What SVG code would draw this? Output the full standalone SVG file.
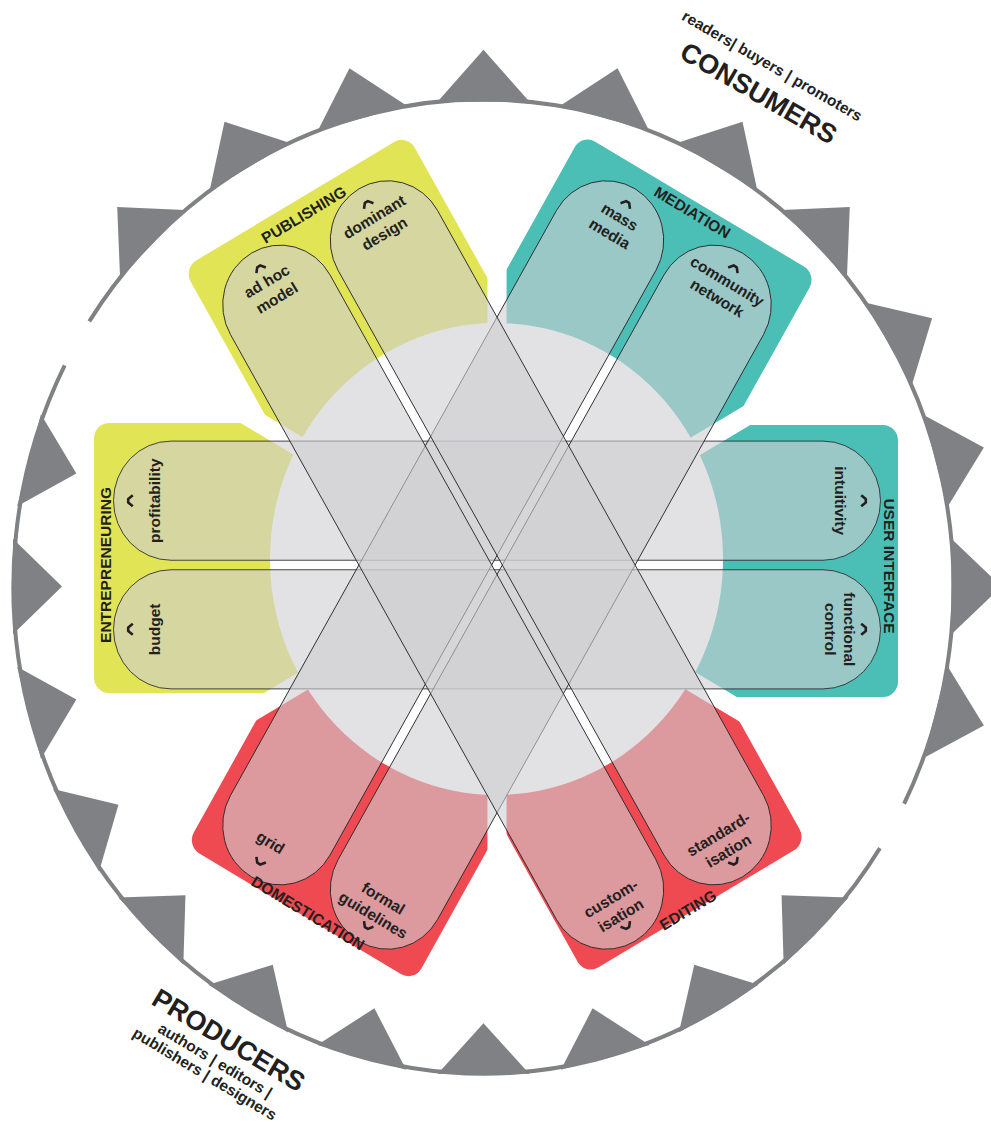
<svg xmlns="http://www.w3.org/2000/svg" width="991" height="1122" viewBox="0 0 991 1122">
<defs>
<clipPath id="wedge"><polygon points="19,0 700,-393 700,393"/></clipPath>
<path id="chev" d="M-5.5,2.8 L-1.8,-1.8 L1.8,-1.8 L5.5,2.8"/>
<style>
.ring{fill:none;stroke:#808184;stroke-width:4}
.tooth{fill:#808184}
.st{fill:#cecfd2;fill-opacity:0.6;stroke:#2a2a2a;stroke-width:0.85}
.yel{fill:#e1e455}.tea{fill:#4bbfb6}.red{fill:#ef4a51}
.lbl{font-family:"Liberation Sans",Arial,sans-serif;font-weight:bold;font-size:15.5px;fill:#231f20;text-anchor:middle}
.sub{font-family:"Liberation Sans",Arial,sans-serif;font-weight:bold;font-size:15.5px;fill:#231f20;text-anchor:middle}
.big{font-family:"Liberation Sans",Arial,sans-serif;font-weight:bold;font-size:27px;fill:#231f20;text-anchor:middle}
.chev{fill:none;stroke:#231f20;stroke-width:2.6;stroke-linejoin:round}
</style>
</defs>
<rect width="991" height="1122" fill="#fff"/>

<g id="ring" transform="translate(483.5,586.5) scale(1,1.036)">
<path class="ring" d="M420.6,209.7 A470,470 0 0 0 -394.2,-256.0"/>
<path class="ring" d="M-418.8,-213.4 A470,470 0 0 0 396.4,252.5"/>
<g class="tooth">
<polygon points="468,-46 518,0 468,46" transform="rotate(-135)"/>
<polygon points="468,-46 518,0 468,46" transform="rotate(-120)"/>
<polygon points="468,-46 518,0 468,46" transform="rotate(-105)"/>
<polygon points="468,-46 518,0 468,46" transform="rotate(-90)"/>
<polygon points="468,-46 518,0 468,46" transform="rotate(-75)"/>
<polygon points="468,-46 518,0 468,46" transform="rotate(-60)"/>
<polygon points="468,-46 518,0 468,46" transform="rotate(-45)"/>
<polygon points="468,-46 518,0 468,46" transform="rotate(-30)"/>
<polygon points="468,-46 518,0 468,46" transform="rotate(-15)"/>
<polygon points="468,-46 518,0 468,46"/>
<polygon points="468,-46 518,0 468,46" transform="rotate(15)"/>
<polygon points="470.5,-46 421.5,0 470.5,46" transform="rotate(-165)"/>
<polygon points="470.5,-46 421.5,0 470.5,46" transform="rotate(-180)"/>
<polygon points="470.5,-46 421.5,0 470.5,46" transform="rotate(-195)"/>
<polygon points="470.5,-46 421.5,0 470.5,46" transform="rotate(-210)"/>
<polygon points="470.5,-46 421.5,0 470.5,46" transform="rotate(-225)"/>
<polygon points="470.5,-46 421.5,0 470.5,46" transform="rotate(-240)"/>
<polygon points="470.5,-46 421.5,0 470.5,46" transform="rotate(-255)"/>
<polygon points="470.5,-46 421.5,0 470.5,46" transform="rotate(-270)"/>
<polygon points="470.5,-46 421.5,0 470.5,46" transform="rotate(-285)"/>
<polygon points="470.5,-46 421.5,0 470.5,46" transform="rotate(-300)"/>
<polygon points="470.5,-46 421.5,0 470.5,46" transform="rotate(-315)"/>
</g>
</g>

<g id="core" transform="translate(497,565) scale(1,1.036)">
<g id="backgrounds">
<g transform="rotate(180)" clip-path="url(#wedge)"><rect class="yel" x="0" y="-123.6" width="403" height="260.7" rx="15"/></g>
<g transform="rotate(-120)" clip-path="url(#wedge)"><rect class="yel" x="0" y="-128.5" width="405" height="258.7" rx="15"/></g>
<g transform="rotate(-60)" clip-path="url(#wedge)"><rect class="tea" x="0" y="-134.3" width="403" height="271.1" rx="15"/></g>
<g transform="rotate(0)" clip-path="url(#wedge)"><rect class="tea" x="0" y="-135.1" width="401" height="262.5" rx="15"/></g>
<g transform="rotate(60)" clip-path="url(#wedge)"><rect class="red" x="0" y="-134.5" width="387" height="256.2" rx="15"/></g>
<g transform="rotate(120)" clip-path="url(#wedge)"><rect class="red" x="0" y="-129.2" width="390" height="262.7" rx="15"/></g>
</g>
<ellipse cx="-0.5" cy="-5.8" rx="226.5" ry="227.8" fill="#fff"/>
<g id="bands">
<rect class="st" x="-383.5" y="-119.6" width="767" height="115" rx="57.5"/>
<rect class="st" x="-383.5" y="4.6" width="767" height="115" rx="57.5"/>
<g transform="rotate(-60)">
<rect class="st" x="-383.5" y="-119.6" width="767" height="115" rx="57.5"/>
<rect class="st" x="-383.5" y="4.6" width="767" height="115" rx="57.5"/>
</g>
<g transform="rotate(60)">
<rect class="st" x="-383.5" y="-119.6" width="767" height="115" rx="57.5"/>
<rect class="st" x="-383.5" y="4.6" width="767" height="115" rx="57.5"/>
</g>
</g>
</g>

<g id="publishing">
<text class="lbl" transform="translate(306.5,219.5) rotate(-31)">PUBLISHING</text>
<use href="#chev" class="chev" transform="translate(259.7,267.9) rotate(-31)"/>
<text class="lbl" transform="translate(271.7,289.5) rotate(-31)"><tspan x="0" y="-4.25">ad hoc</tspan><tspan x="0" y="15.25">model</tspan></text>
<use href="#chev" class="chev" transform="translate(367.3,203.6) rotate(-31)"/>
<text class="lbl" transform="translate(379.3,225.1) rotate(-31)"><tspan x="0" y="-4.25">dominant</tspan><tspan x="0" y="15.25">design</tspan></text>
</g>

<g id="mediation">
<text class="lbl" transform="translate(689.5,217) rotate(31)">MEDIATION</text>
<use href="#chev" class="chev" transform="translate(626.7,203.6) rotate(31)"/>
<text class="lbl" transform="translate(614.7,225.1) rotate(31)"><tspan x="0" y="-4.25">mass</tspan><tspan x="0" y="15.25">media</tspan></text>
<use href="#chev" class="chev" transform="translate(734.3,267.9) rotate(31)"/>
<text class="lbl" transform="translate(722.3,289.5) rotate(31)"><tspan x="0" y="-4.25">community</tspan><tspan x="0" y="15.25">network</tspan></text>
</g>

<g id="user-interface">
<text class="lbl" transform="translate(883.5,566) rotate(90)">USER INTERFACE</text>
<use href="#chev" class="chev" transform="translate(864,500.7) rotate(90)"/>
<text class="lbl" transform="translate(840,500.7) rotate(90)"><tspan x="0" y="5.5">intuitivity</tspan></text>
<use href="#chev" class="chev" transform="translate(864,629.3) rotate(90)"/>
<text class="lbl" transform="translate(840,629.3) rotate(90)"><tspan x="0" y="-4.25">functional</tspan><tspan x="0" y="15.25">control</tspan></text>
</g>

<g id="editing">
<text class="lbl" transform="translate(690.8,914.7) rotate(-31)">EDITING</text>
<use href="#chev" class="chev" transform="translate(734.3,862.1) rotate(149)"/>
<text class="lbl" transform="translate(723.3,842.4) rotate(-31)"><tspan x="0" y="-4.25">standard-</tspan><tspan x="0" y="15.25">isation</tspan></text>
<use href="#chev" class="chev" transform="translate(626.7,926.4) rotate(149)"/>
<text class="lbl" transform="translate(615.7,906.7) rotate(-31)"><tspan x="0" y="-4.25">custom-</tspan><tspan x="0" y="15.25">isation</tspan></text>
</g>

<g id="domestication">
<text class="lbl" transform="translate(305.2,917.7) rotate(31)">DOMESTICATION</text>
<use href="#chev" class="chev" transform="translate(259.7,862.1) rotate(211)"/>
<text class="lbl" transform="translate(270.7,842.4) rotate(31)"><tspan x="0" y="5.5">grid</tspan></text>
<use href="#chev" class="chev" transform="translate(367.3,926.4) rotate(211)"/>
<text class="lbl" transform="translate(378.3,906.7) rotate(31)"><tspan x="0" y="-4.25">formal</tspan><tspan x="0" y="15.25">guidelines</tspan></text>
</g>

<g id="entrepreneuring">
<text class="lbl" transform="translate(110.5,565) rotate(-90)">ENTREPRENEURING</text>
<use href="#chev" class="chev" transform="translate(130,500.7) rotate(-90)"/>
<text class="lbl" transform="translate(154,500.7) rotate(-90)"><tspan x="0" y="5.5">profitability</tspan></text>
<use href="#chev" class="chev" transform="translate(130,629.3) rotate(-90)"/>
<text class="lbl" transform="translate(154,629.3) rotate(-90)"><tspan x="0" y="5.5">budget</tspan></text>
</g>

<g id="consumers">
<text class="sub" transform="translate(769.5,70.5) rotate(30)">readers| buyers | promoters</text>
<text class="big" transform="translate(754,101) rotate(30)">CONSUMERS</text>
</g>

<g id="producers">
<text class="big" transform="translate(224,1048) rotate(31)">PRODUCERS</text>
<text class="sub" transform="translate(212.5,1065) rotate(31)">authors | editors |</text>
<text class="sub" transform="translate(202,1078.5) rotate(31)">publishers | designers</text>
</g>
</svg>
